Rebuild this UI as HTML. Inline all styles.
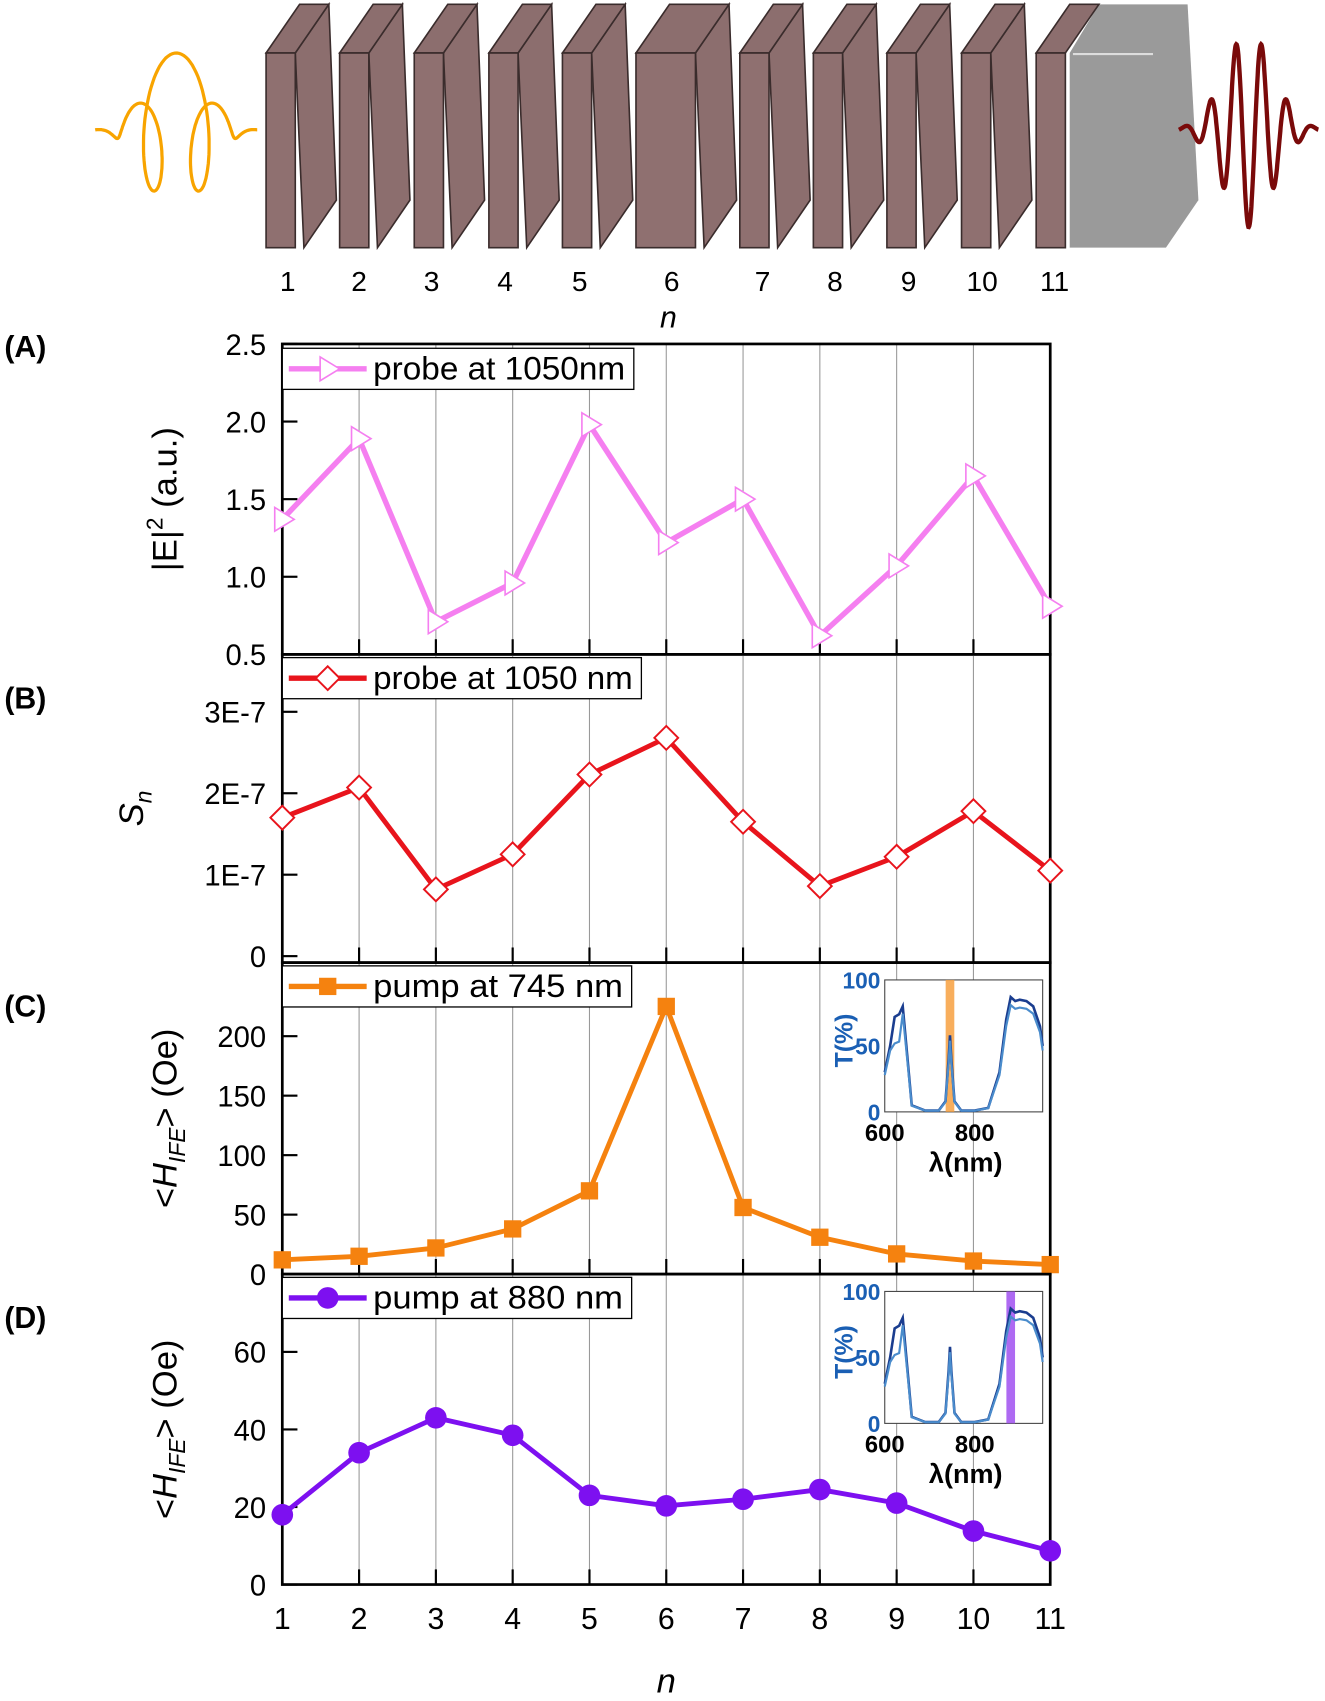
<!DOCTYPE html>
<html><head><meta charset="utf-8"><style>
html,body{margin:0;padding:0;background:#fff}
svg{display:block}
text{font-family:"Liberation Sans",Arial,sans-serif}
</style></head><body>
<svg id="fig" width="1325" height="1701" viewBox="0 0 1325 1701" xmlns="http://www.w3.org/2000/svg">
<g id="charts" transform="scale(1.0816)">
<g id="schem"></g>
</g>
</svg>
<script>
// ---- data ----
const nValues = [1,2,3,4,5,6,7,8,9,10,11];
const seriesA = [1.37,1.89,0.71,0.96,1.98,1.22,1.50,0.62,1.07,1.65,0.81];
const seriesB = [1.70,2.07,0.82,1.25,2.23,2.68,1.65,0.86,1.22,1.78,1.05]; // x1E-7
const seriesC = [12,15,22,38,70,225,56,31,17,11,8];
const seriesD = [18,34,43,38.5,23,20.3,22,24.5,21,13.8,8.7];
const ticksA = [0.5,1.0,1.5,2.0,2.5];
const tickLabelsA = ["0.5","1.0","1.5","2.0","2.5"];
const ticksB = [0,1,2,3];
const tickLabelsB = ["0","1E-7","2E-7","3E-7"];
const ticksC = [0,50,100,150,200];
const ticksD = [0,20,40,60];
const insetLam = [600,612,622,632,640,648,660,690,720,735,742,745,748,755,770,800,830,855,870,880,890,900,915,930,945,951];
const insetT1 = [30,50,72,74,80,50,5,1,1,8,40,58,40,8,1,1,3,30,70,87,84,85,84,80,65,50];

const NS="http://www.w3.org/2000/svg";
function el(parent,tag,attrs,txt){const e=document.createElementNS(NS,tag);for(const k in attrs)e.setAttribute(k,attrs[k]);if(txt!==undefined)e.textContent=txt;parent.appendChild(e);return e;}

// ---- schematic (displayed coords) ----
const sch=document.getElementById('schem');
const slabX=[246,314,383,452,520,588,684,752,820,889,958];
const slabW=[27,27,27,27,27,55,27,27,27,27,27];
const labelX=[266,332,399,467,536,621,705,772,840,908,975];
const FT=49,FB=229,BT=4,DX=31;
let sub=el(sch,'polygon',{points:`989,${FT} 1016,${BT} 1098,${BT} 1108,185 1078,${FB} 989,${FB}`,fill:"#9a9a9a"});

el(sch,'line',{x1:992,y1:50,x2:1066,y2:50,stroke:"#ddd","stroke-width":2});
slabX.forEach((x,i)=>{
  const w=slabW[i];
  const g=el(sch,'g',{});
  
  if(i<10) el(g,'polygon',{points:`${x+w},${FT} ${x+w+DX},${BT} ${x+w+38},185 ${x+w+8},${FB}`,fill:"#8c6e6e",stroke:"#3a2c2c","stroke-width":1.5});
  el(g,'polygon',{points:`${x},${FT} ${x+DX},${BT} ${x+w+DX},${BT} ${x+w},${FT}`,fill:"#8c6e6e",stroke:"#3a2c2c","stroke-width":1.5});
  el(g,'rect',{x:x,y:FT,width:w,height:FB-FT,fill:"#8f7070",stroke:"#3a2c2c","stroke-width":1.5});
  const t=el(sch,'text',{x:labelX[i],y:269,"font-size":26,"text-anchor":"middle"},String(nValues[i]));
  
});
let nl=el(sch,'text',{x:618,y:303,"font-size":28,"font-style":"italic","font-family":"Liberation Serif","text-anchor":"middle"},"n");

// incoming helix
let hp="";for(let t=0;t<=1;t+=0.003){const x=88+t*150;const env=Math.exp(-Math.pow((t-0.5)/0.24,2));const ph=t*2*Math.PI*4;const y=121-env*72*Math.cos(ph);const xx=x+env*22*Math.sin(ph);hp+=(hp?"L":"M")+xx.toFixed(1)+","+y.toFixed(1);}
let helix=el(sch,'path',{d:hp,fill:"none",stroke:"#f8a400","stroke-width":3});

// outgoing wave
let wp="";for(let t=0;t<=1;t+=0.003){const x=1090+t*129;const env=Math.exp(-Math.pow((t-0.5)/0.25,2));const y=120-env*90*Math.sin(t*2*Math.PI*5.5);wp+=(wp?"L":"M")+x.toFixed(1)+","+y.toFixed(1);}
let wave=el(sch,'path',{d:wp,fill:"none",stroke:"#7a0a0a","stroke-width":4});


// ---- charts (displayed coords) ----
const C=document.getElementById('charts');
const L=261,R=971;
const X=n=>L+(n-1)*(R-L)/10;
const panels=[
 {id:'A',top:318,bot:605,y:v=>605-(v-0.5)*(287/2),ticks:ticksA,labels:tickLabelsA,data:seriesA,color:"#f57ff0",marker:'tri',legend:"probe at 1050nm",lw:325,title:'A'},
 {id:'B',top:605,bot:890,y:v=>884-v*75.3,ticks:ticksB,labels:tickLabelsB,data:seriesB,color:"#e8141c",marker:'dia',legend:"probe at 1050 nm",lw:332,title:'B'},
 {id:'C',top:890,bot:1178,y:v=>1178-v*1.1,ticks:ticksC,labels:ticksC.map(String),data:seriesC,color:"#f5820f",marker:'sq',legend:"pump at 745 nm",lw:323,title:'C'},
 {id:'D',top:1178,bot:1465,y:v=>1465-v*3.585,ticks:ticksD,labels:ticksD.map(String),data:seriesD,color:"#7d10f0",marker:'circ',legend:"pump at 880 nm",lw:323,title:'D'}
];
panels.forEach(p=>{
  const g=el(C,'g',{});
  
  nValues.forEach(n=>{if(n>1&&n<11)el(g,'line',{x1:X(n),y1:p.top,x2:X(n),y2:p.bot,stroke:"#999","stroke-width":1});});
  nValues.forEach(n=>el(g,'line',{x1:X(n),y1:p.bot,x2:X(n),y2:p.bot-14,stroke:"#000","stroke-width":2}));
  p.ticks.forEach((t,i)=>{const yy=p.y(t);
    el(g,'line',{x1:L,y1:yy,x2:L+14,y2:yy,stroke:"#000","stroke-width":2});
    const tl=el(g,'text',{x:246,y:yy+10,"font-size":27,"text-anchor":"end"},p.labels[i]);
    
  });
  el(g,'rect',{x:L,y:p.top,width:R-L,height:p.bot-p.top,fill:"none",stroke:"#000","stroke-width":2.5});
  const pl=el(g,'text',{x:4,y:p.id=='A'?330:p.top+50,"font-size":28,"font-weight":"bold"},"("+p.title+")");
  
  const pts=p.data.map((v,i)=>[X(nValues[i]),p.y(v)]);
  const line=el(g,'polyline',{points:pts.map(q=>q.join(',')).join(' '),fill:"none",stroke:p.color,"stroke-width":p.id=='A'?5:4.5,"stroke-linejoin":"round"});
  
  const drawMarker=(gg,x,y)=>{
    let m;
    if(p.marker=='tri') m=el(gg,'polygon',{points:`${x-7},${y-11} ${x+11},${y} ${x-7},${y+11}`,fill:"#fff",stroke:p.color,"stroke-width":1.5});
    else if(p.marker=='dia') m=el(gg,'polygon',{points:`${x},${y-11} ${x+11},${y} ${x},${y+11} ${x-11},${y}`,fill:"#fff",stroke:p.color,"stroke-width":1.8});
    else if(p.marker=='sq') m=el(gg,'rect',{x:x-8,y:y-8,width:16,height:16,fill:p.color});
    else m=el(gg,'circle',{cx:x,cy:y,r:10,fill:p.color});
    return m;
  };
  pts.forEach((q,i)=>{const m=drawMarker(g,q[0],q[1]);
    
    });
  const lg=el(g,'g',{});
  
  const ly=p.top+(p.id=='A'?4:3),lh=38;
  el(lg,'rect',{x:L,y:ly,width:p.lw,height:lh,fill:"#fff",stroke:"#000","stroke-width":1.2});
  el(lg,'line',{x1:L+6,y1:ly+lh/2,x2:L+78,y2:ly+lh/2,stroke:p.color,"stroke-width":5});
  drawMarker(lg,L+42,ly+lh/2);
  el(lg,'text',{x:L+84,y:ly+lh/2+10,"font-size":30,textLength:p.lw-92,lengthAdjust:"spacingAndGlyphs"},p.legend);
  const ty=el(g,'g',{transform:`translate(${p.id=='B'?132:163},${(p.top+p.bot)/2}) rotate(-90)`});
  
  if(p.id=='A'){const t=el(ty,'text',{x:0,y:0,"font-size":32,"text-anchor":"middle"});
    t.innerHTML='|E|<tspan dy="-13" font-size="21">2</tspan><tspan dy="13"> (a.u.)</tspan>';}
  else if(p.id=='B'){const t=el(ty,'text',{x:0,y:0,"font-size":32,"text-anchor":"middle","font-style":"italic"});
    t.innerHTML='S<tspan dy="8" font-size="21">n</tspan>';}
  else {const t=el(ty,'text',{x:0,y:0,"font-size":32,"text-anchor":"middle"});
    t.innerHTML='&lt;<tspan font-style="italic">H</tspan><tspan dy="8" font-size="21" font-style="italic">IFE</tspan><tspan dy="-8">&gt; (Oe)</tspan>';}
  if(p.id=='C'||p.id=='D'){
    const ig=el(g,'g',{});
    
    const ox=818,ow=146,oyT=p.top+16,oyB=p.top+138;
    const lx=l=>ox+(l-600)*ow/351, ty2=v=>oyB-v*(oyB-oyT)/100;
    el(ig,'rect',{x:ox,y:oyT,width:ow,height:oyB-oyT,fill:"#fff",stroke:"#444","stroke-width":1});
    const bandL=p.id=='C'?745:880;
    el(ig,'rect',{x:lx(bandL)-4,y:oyT,width:8,height:oyB-oyT,fill:p.id=='C'?"#f7a040":"#a050f0",opacity:0.85});
    el(ig,'polyline',{points:insetLam.map((l,i)=>lx(l)+','+ty2(insetT1[i])).join(' '),fill:"none",stroke:"#1a3d8f","stroke-width":2.4});
    el(ig,'polyline',{points:insetLam.map((l,i)=>lx(l)+','+ty2(Math.max(0,insetT1[i]*(i==2||i==3?0.72:0.93)))).join(' '),fill:"none",stroke:"#4a8ccc","stroke-width":2});
    [0,50,100].forEach(v=>{el(ig,'text',{x:ox-4,y:ty2(v)+8,"font-size":21,"font-weight":"bold",fill:"#1a5fb4","text-anchor":"end"},String(v));});
    [600,800].forEach(v=>{el(ig,'text',{x:lx(v),y:oyB+27,"font-size":22,"font-weight":"bold","text-anchor":"middle"},String(v));});
    el(ig,'text',{x:lx(780),y:oyB+55,"font-size":25,"font-weight":"bold","text-anchor":"middle"},"λ(nm)");
    el(ig,'text',{x:0,y:0,"font-size":23,"font-weight":"bold",fill:"#1a5fb4","text-anchor":"middle",transform:`translate(${ox-30},${(oyT+oyB)/2-5}) rotate(-90)`},"T(%)");
  }
});
nValues.forEach(n=>{const t=el(C,'text',{x:X(n),y:1506,"font-size":28,"text-anchor":"middle"},String(n));
  });
const xt=el(C,'text',{x:616,y:1565,"font-size":32,"font-style":"italic","font-family":"Liberation Serif","text-anchor":"middle"},"n");

</script>
</body></html>
